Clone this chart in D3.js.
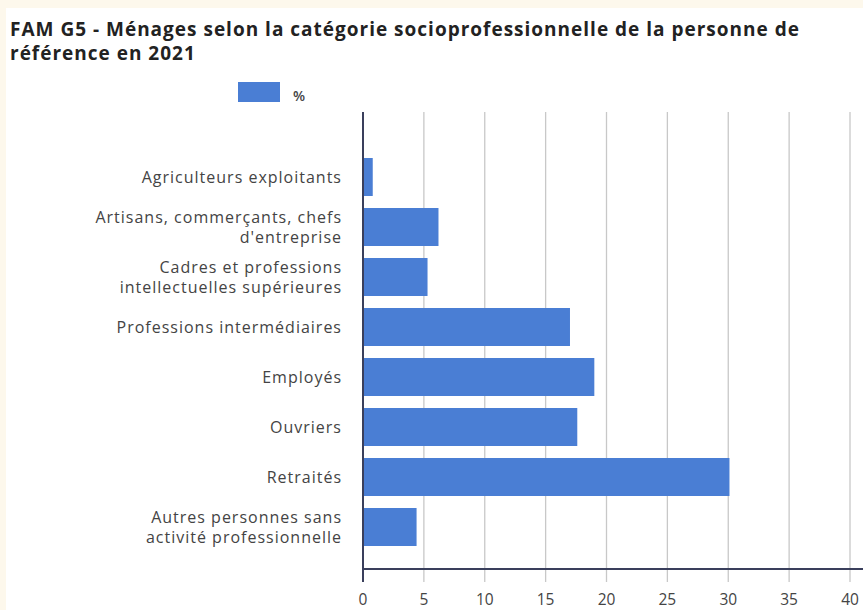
<!DOCTYPE html>
<html><head><meta charset="utf-8">
<script src="https://cdn.jsdelivr.net/npm/d3@7"></script>
<style>body{margin:0;background:#fdf8ec;} svg{display:block;}</style>
</head><body>
<svg id="c" width="863" height="610"></svg>
<script>
const titleLines = ["FAM G5 - Ménages selon la catégorie socioprofessionnelle de la personne de", "référence en 2021"];
const categories = [
  ["Agriculteurs exploitants"],
  ["Artisans, commerçants, chefs", "d'entreprise"],
  ["Cadres et professions", "intellectuelles supérieures"],
  ["Professions intermédiaires"],
  ["Employés"],
  ["Ouvriers"],
  ["Retraités"],
  ["Autres personnes sans", "activité professionnelle"]
];
const values = [0.8, 6.2, 5.3, 17.0, 19.0, 17.6, 30.1, 4.4];
const xTicks = [0, 5, 10, 15, 20, 25, 30, 35, 40];
const seriesName = "%";

const svg = d3.select("#c");
svg.append("rect").attr("x", 6).attr("y", 8).attr("width", 857).attr("height", 602).attr("fill", "#fff");

const keys = categories.map(c => c.join(" "));
const x = d3.scaleLinear().domain([0, 40]).range([363, 850]);
const y = d3.scaleBand().domain(keys).range([152, 552]).paddingInner(0.24).paddingOuter(0.12);

// title
const title = svg.append("text").attr("font-family", "Open Sans").attr("font-weight", 700).attr("font-size", 19)
  .attr("fill", "#222").attr("letter-spacing", 1.0);
title.selectAll("tspan").data(titleLines).join("tspan")
  .attr("x", 10).attr("y", (d, i) => 36 + i * 24).text(d => d);

// legend
svg.append("rect").attr("x", 238).attr("y", 82).attr("width", 42).attr("height", 20).attr("fill", "#4a7ed4");
svg.append("text").attr("x", 293).attr("y", 101).attr("font-family", "Open Sans").attr("font-weight", 600)
  .attr("font-size", 14).attr("fill", "#444").text(seriesName);

// grid
svg.append("g").selectAll("line").data(xTicks.filter(t => t > 0)).join("line")
  .attr("x1", d => x(d)).attr("x2", d => x(d)).attr("y1", 112).attr("y2", 582)
  .attr("stroke", "#c8c8c8").attr("stroke-width", 1.3);

// bars
svg.append("g").selectAll("rect").data(values).join("rect")
  .attr("x", x(0)).attr("y", (d, i) => y(keys[i]))
  .attr("width", d => x(d) - x(0)).attr("height", y.bandwidth())
  .attr("fill", "#4a7ed4");

// axes lines
svg.append("line").attr("x1", x(0)).attr("x2", x(0)).attr("y1", 112).attr("y2", 582)
  .attr("stroke", "#3a3f5c").attr("stroke-width", 2);
svg.append("line").attr("x1", x(0)).attr("x2", 863).attr("y1", 569).attr("y2", 569)
  .attr("stroke", "#3a3f5c").attr("stroke-width", 2);

// x tick labels
svg.append("g").selectAll("text").data(xTicks).join("text")
  .attr("x", d => x(d)).attr("y", 605).attr("text-anchor", "middle")
  .attr("font-family", "Open Sans").attr("font-size", 15.5).attr("fill", "#444").text(d => d);

// category labels
const lab = svg.append("g").attr("font-family", "Open Sans").attr("font-size", 16).attr("fill", "#444")
  .attr("letter-spacing", 1.0);
categories.forEach((c, i) => {
  const cy = y(keys[i]) + y.bandwidth() / 2;
  const t = lab.append("text").attr("text-anchor", "end");
  c.forEach((line, j) => {
    t.append("tspan").attr("x", 342)
      .attr("y", cy + 6 + (j - (c.length - 1) / 2) * 20).text(line);
  });
});
</script>
</body></html>
